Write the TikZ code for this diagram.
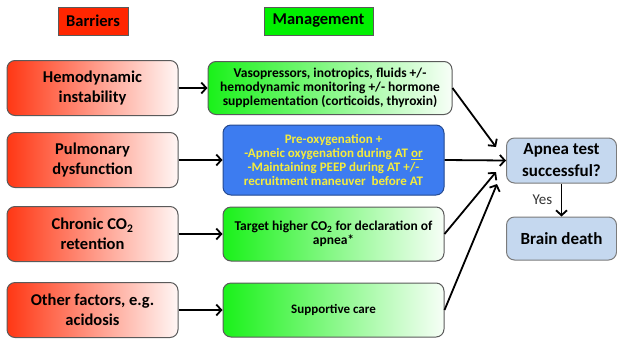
\documentclass[tikz,border=0pt]{standalone}
\usepackage{fontspec}
\setmainfont{Carlito}
\usetikzlibrary{arrows.meta, positioning}
\definecolor{cred}{HTML}{FF2600}
\definecolor{cgreen}{HTML}{00F000}
\definecolor{cblue}{HTML}{3D7CF0}
\definecolor{cyellow}{HTML}{F4EC3C}
\definecolor{clight}{HTML}{C5D8EF}
\definecolor{cgrey}{HTML}{5A5A5A}
\tikzset{
  every picture/.style={line width=1pt, x=1pt, y=-1pt},
  header/.style={draw=cgrey, fill=#1, minimum height=28pt, inner sep=0pt, font=\fontsize{16.5}{20}\selectfont\bfseries},
  barrier/.style={draw=cgrey, rounded corners=8pt, left color=cred!92, right color=cred!4, minimum width=171pt, minimum height=55pt, align=center, inner sep=0pt, font=\fontsize{16.5}{20}\selectfont\bfseries},
  manage/.style={draw=cgrey, rounded corners=8pt, left color=cgreen!90, right color=cgreen!3, minimum height=54pt, align=center, inner sep=0pt, font=\fontsize{13.5}{14}\selectfont\bfseries},
  outcome/.style={draw=cgrey!80, fill=clight, rounded corners=8pt, minimum width=110pt, align=center, inner sep=0pt, font=\fontsize{17}{22}\selectfont\bfseries},
  arrow/.style={-{Straight Barb[length=5pt, width=11pt, line width=1.8pt]}, line width=1.8pt},
}
\begin{document}
\begin{tikzpicture}
  \useasboundingbox (0,0) rectangle (617,338);
  % column headers
  \node[header=cred, minimum width=70pt] (hbar) at (93,21) {Barriers};
  \node[header=cgreen!100, minimum width=109pt] (hman) at (318.5,21) {Management};
  % barriers
  \node[barrier] (hemo) at (92.5,88) {Hemodynamic\\instability};
  \node[barrier] (pulm) at (92.5,160) {Pulmonary\\dysfunction};
  \node[barrier] (chron) at (92.5,234) {Chronic CO\textsubscript{2}\\retention};
  \node[barrier] (other) at (92.5,310) {Other factors, e.g.\\acidosis};
  % management
  \node[manage, minimum width=244pt, minimum height=53pt] (vaso) at (330,88)
    {Vasopressors, inotropics, fluids +/-\\hemodynamic monitoring +/- hormone\\supplementation (corticoids, thyroxin)};
  \node[manage, draw=cblue!60!black, fill=cblue, left color=cblue, right color=cblue, text=cyellow, minimum width=221pt, minimum height=70pt, font=\fontsize{13}{14}\selectfont\bfseries] (oxy) at (333.5,160)
    {Pre-oxygenation +\\-Apneic oxygenation during AT \underline{or}\\-Maintaining PEEP during AT +/-\\recruitment maneuver\ \ before AT};
  \node[manage, minimum width=221pt] (target) at (333.5,234) {Target higher CO\textsubscript{2} for declaration of\\apnea*};
  \node[manage, minimum width=221pt, font=\fontsize{13}{14}\selectfont\bfseries] (care) at (333.5,310) {Supportive care};
  % outcome
  \node[outcome, minimum height=45pt] (apnea) at (561.5,160.5) {Apnea test\\successful?};
  \node[outcome, minimum height=43pt] (brain) at (561.5,238.5) {Brain death};
  \coordinate (t1) at (496,147);
  \coordinate (t3) at (496,172);
  \coordinate (t4) at (497,184);
  \draw[arrow] (hemo) -- (vaso);
  \draw[arrow] (pulm) -- (oxy);
  \draw[arrow] (chron) -- (target);
  \draw[arrow] (other) -- (care);
  \draw[arrow] (vaso.east) -- (t1);
  \draw[arrow] (oxy.east) -- (apnea.west);
  \draw[arrow] (target.east) -- (t3);
  \draw[arrow] (care.east) -- (t4);
  \draw[arrow] (apnea) -- node[left=5pt, font=\fontsize{15}{18}\selectfont, text=black!80] (yes) {Yes} (brain);
\end{tikzpicture}
\end{document}
